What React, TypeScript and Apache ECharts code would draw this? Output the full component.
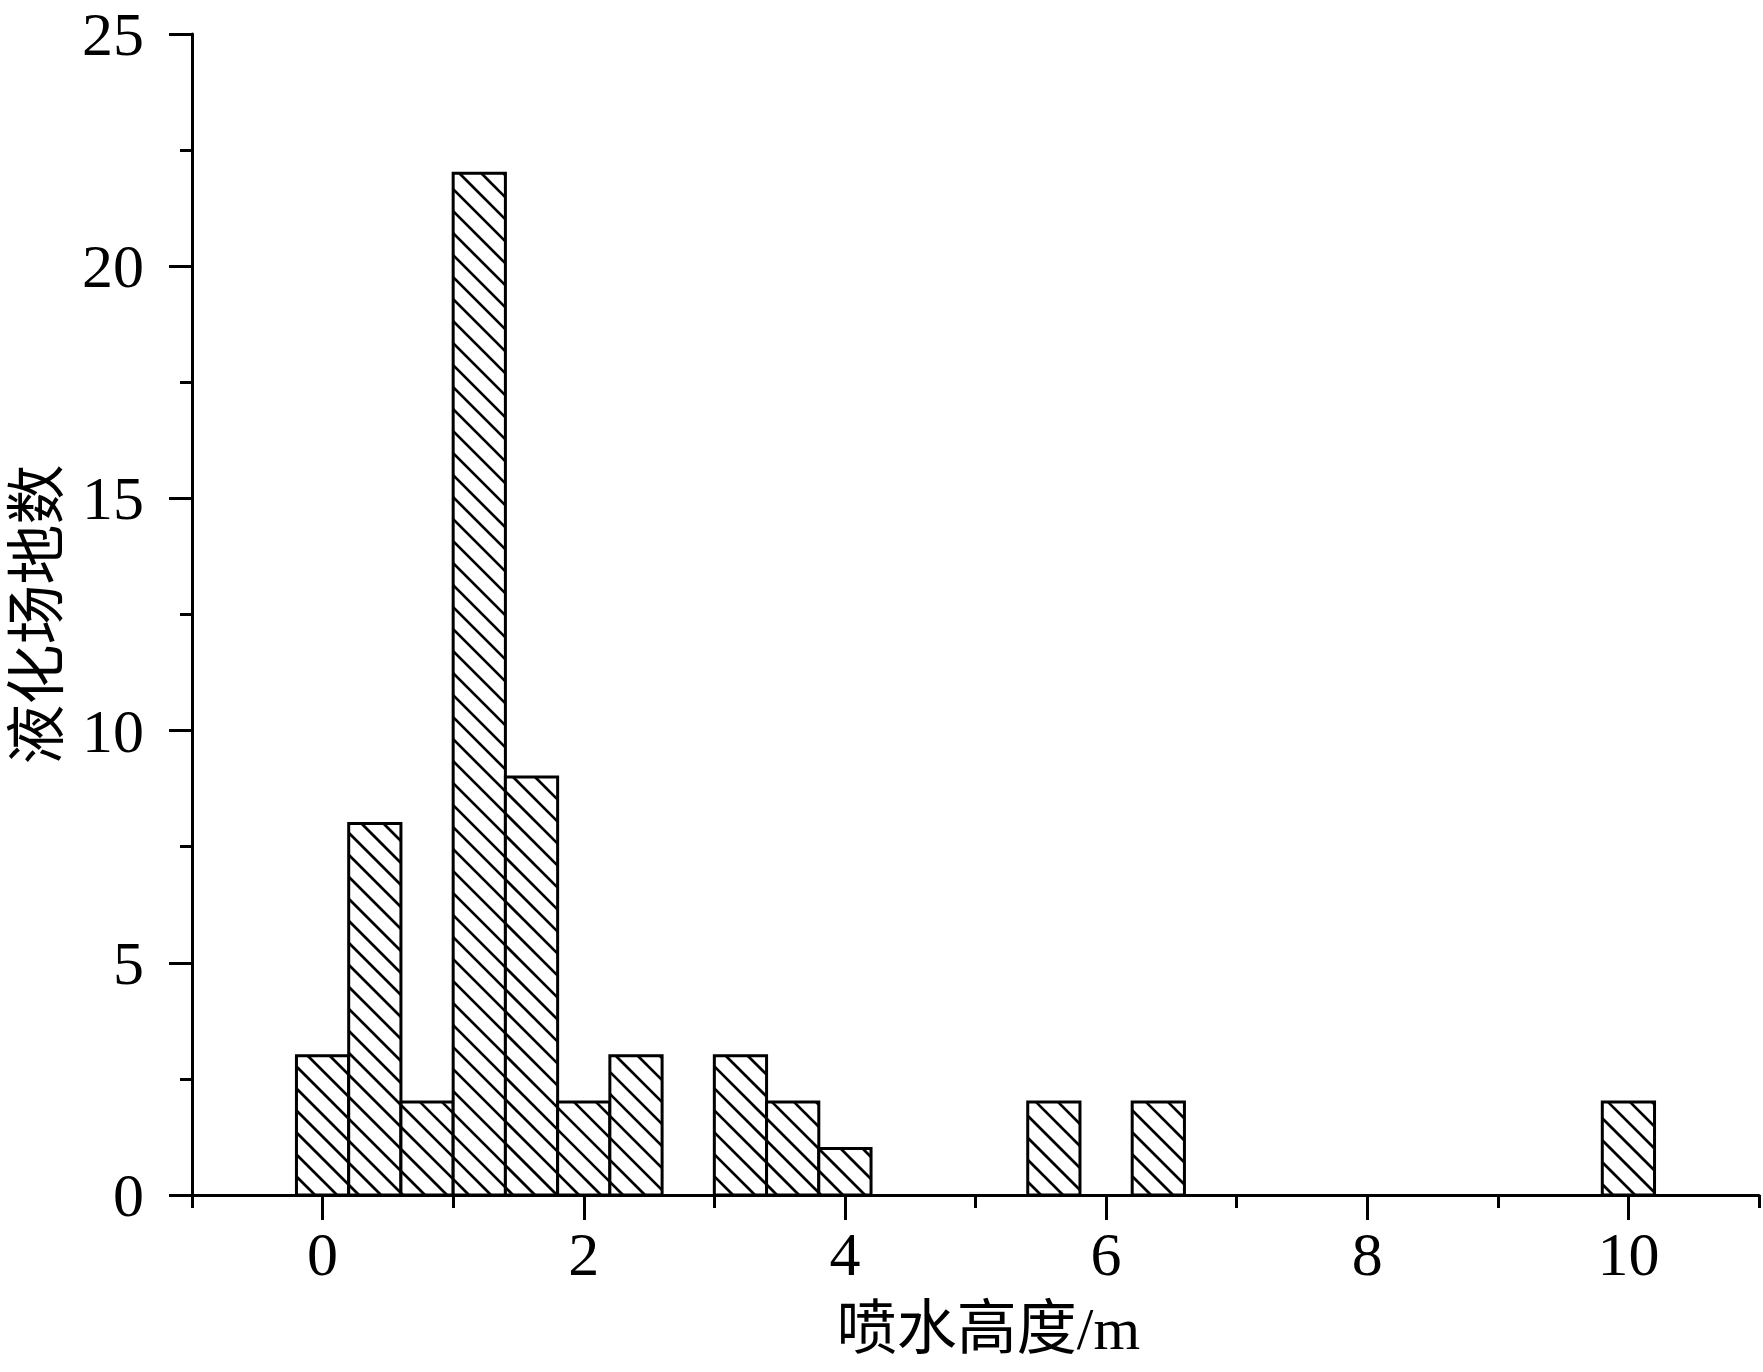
import React, { useEffect, useRef } from "react";
import * as echarts from "echarts";

// Bin centres (m) and counts
const binCenters = [0, 0.4, 0.8, 1.2, 1.6, 2.0, 2.4, 3.2, 3.6, 4.0, 5.6, 6.4, 10.0];
const binCounts = [3, 8, 2, 22, 9, 2, 3, 3, 2, 1, 2, 2, 2];
const BIN_WIDTH = 0.4;

const xMajorTicks = [0, 2, 4, 6, 8, 10];
const xMinorTicks = [-1, 1, 3, 5, 7, 9, 11];

const xTitle = "喷水高度/m";
const yTitle = "液化场地数";

const FONT = "'Liberation Serif', 'Noto Sans CJK SC', serif";
const HATCH_STEP = 22;

function hatchLines(x0: number, y0: number, x1: number, y1: number) {
  // lines y = x - c (top-left to bottom-right), anchored to page
  const out: any[] = [];
  const cMin = Math.floor((x0 - y1) / HATCH_STEP) * HATCH_STEP;
  const cMax = x1 - y0;
  for (let c = cMin; c <= cMax; c += HATCH_STEP) {
    const xs = Math.max(x0, y0 + c);
    const xe = Math.min(x1, y1 + c);
    if (xe - xs > 0.5) {
      out.push({
        type: "line",
        shape: { x1: xs, y1: xs - c, x2: xe, y2: xe - c },
        style: { stroke: "#000", lineWidth: 2.7 },
        silent: true,
      });
    }
  }
  return out;
}

export default function App() {
  const ref = useRef<HTMLDivElement>(null);
  useEffect(() => {
    if (!ref.current) return;
    const chart = echarts.init(ref.current, undefined, { renderer: "svg" });
    const data = binCenters.map((c, i) => [c, binCounts[i]]);
    chart.setOption({
      animation: false,
      backgroundColor: "#fff",
      grid: {
        left: 192,
        top: 34,
        right: 4,
        bottom: 177,
        containLabel: false,
        outerBoundsMode: "none",
      },
      xAxis: [
        {
          type: "value",
          min: -1,
          max: 11,
          interval: 1,
          position: "bottom",
          name: xTitle,
          nameLocation: "middle",
          nameGap: 104,
          nameTextStyle: { fontFamily: FONT, fontSize: 60, color: "#000", padding: [0, 0, 0, 26] },
          axisLine: { show: true, onZero: false, lineStyle: { color: "#000", width: 3 } },
          axisTick: { show: true, customValues: xMajorTicks, length: 25, lineStyle: { color: "#000", width: 3 } },
          axisLabel: {
            show: true,
            customValues: xMajorTicks,
            margin: 28,
            fontFamily: FONT,
            fontSize: 62,
            color: "#000",
          },
          splitLine: { show: false },
        },
        {
          type: "value",
          min: -1,
          max: 11,
          interval: 1,
          position: "bottom",
          axisLine: { show: false, onZero: false },
          axisTick: { show: true, customValues: xMinorTicks, length: 13, lineStyle: { color: "#000", width: 3 } },
          axisLabel: { show: false },
          splitLine: { show: false },
        },
      ],
      yAxis: {
        type: "value",
        min: 0,
        max: 25,
        interval: 5,
        name: yTitle,
        nameLocation: "middle",
        nameGap: 124,
        nameTextStyle: { fontFamily: FONT, fontSize: 60, color: "#000" },
        axisLine: { show: true, onZero: false, lineStyle: { color: "#000", width: 3 } },
        axisTick: { show: true, length: 23, lineStyle: { color: "#000", width: 3 } },
        minorTick: { show: true, splitNumber: 2, length: 12, lineStyle: { color: "#000", width: 3 } },
        axisLabel: { margin: 48, fontFamily: FONT, fontSize: 62, color: "#000" },
        splitLine: { show: false },
        minorSplitLine: { show: false },
      },
      series: [
        {
          type: "custom",
          xAxisIndex: 0,
          yAxisIndex: 0,
          data,
          renderItem: (params: any, api: any) => {
            const x = api.value(0);
            const v = api.value(1);
            const p0 = api.coord([x - BIN_WIDTH / 2, v]);
            const p1 = api.coord([x + BIN_WIDTH / 2, 0]);
            const rx = p0[0];
            const ry = p0[1];
            const rw = p1[0] - p0[0];
            const rh = p1[1] - p0[1];
            return {
              type: "group",
              children: [
                {
                  type: "rect",
                  shape: { x: rx, y: ry, width: rw, height: rh },
                  style: { fill: "#fff" },
                },
                ...hatchLines(rx, ry, rx + rw, ry + rh),
                {
                  type: "rect",
                  shape: { x: rx, y: ry, width: rw, height: rh },
                  style: { fill: "none", stroke: "#000", lineWidth: 3 },
                },
              ],
            };
          },
        },
      ],
    });
    return () => chart.dispose();
  }, []);
  return (
    <div
      ref={ref}
      style={{ position: "fixed", left: 0, top: 0, width: 1763, height: 1372, background: "#fff" }}
    />
  );
}
